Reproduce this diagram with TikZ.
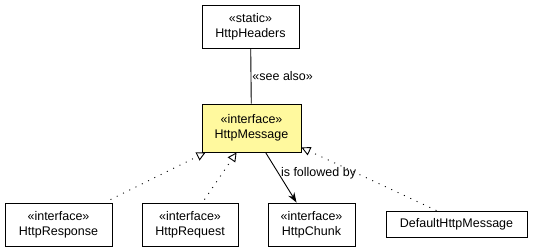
\documentclass[tikz,border=0pt]{standalone}
\usepackage{fontspec}
\setmainfont{Liberation Sans}
\usetikzlibrary{positioning,arrows.meta,calc}
\definecolor{ifacefill}{RGB}{255,249,158}

\begin{document}
\begin{tikzpicture}[
    x=1pt, y=-1pt, line width=0.9pt,
    lbl/.style={font=\fontsize{12.5}{15}\selectfont},
    cls/.style={draw, minimum height=43pt, align=center, inner sep=0pt, lbl},
    realize/.style={dash pattern=on 1pt off 6pt, -{Triangle[open, length=9pt, width=9pt]}},
    >=Stealth
  ]
  \useasboundingbox (0,0) rectangle (533,251);
  \node[cls, minimum width=97pt] (headers) at (250.5,26.5) {«static»\\HttpHeaders};
  \node[cls, minimum width=99pt, minimum height=48pt, fill=ifacefill] (message) at (251.5,128) {«interface»\\HttpMessage};
  \node[cls, minimum width=107pt] (response) at (58.5,224.5) {«interface»\\HttpResponse};
  \node[cls, minimum width=96pt] (request) at (190,224.5) {«interface»\\HttpRequest};
  \node[cls, minimum width=87pt] (chunk) at (311.5,224.5) {«interface»\\HttpChunk};
  \node[cls, minimum width=141pt, minimum height=26pt] (defmsg) at (456.5,224) {DefaultHttpMessage};
  % associations
  \draw (headers) -- node[right, lbl, inner sep=1pt] {«see also»} (message);
  \draw[-{Stealth[length=10pt, width=7pt]}] ($(message.south west)+(64,0)$) -- node[right, pos=0.42, lbl, inner sep=2pt] {is followed by} ($(chunk.north west)+(29,0)$);
  % realizations
  \draw[realize] ($(response.north east)+(-2,-3)$) -- ($(message.south west)+(4,0)$);
  \draw[realize] ($(request.north east)+(-34,-3)$) -- ($(message.south west)+(35,0)$);
  \draw[realize] ($(defmsg.north west)+(51,0)$) -- ($(message.south east)+(0,-5)$);
\end{tikzpicture}
\end{document}
